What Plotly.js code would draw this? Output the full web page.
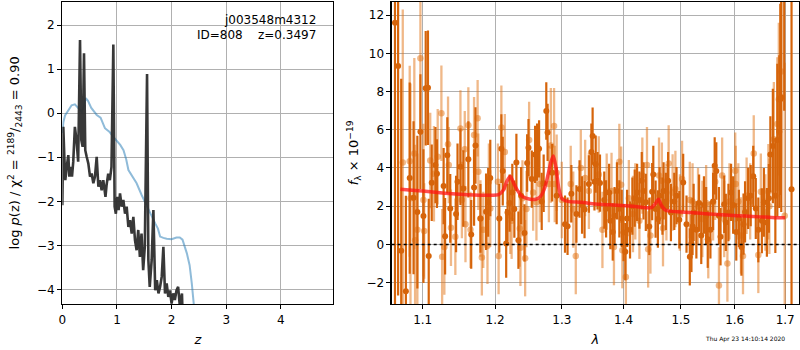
<!DOCTYPE html>
<html>
<head>
<meta charset="utf-8">
<script src="https://cdn.plot.ly/plotly-3.0.1.min.js"></script>
<style>html,body{margin:0;padding:0;background:#fff;}#chart{width:800px;height:350px;}</style>
</head>
<body>
<div id="chart"></div>
<script>
// ---- Left panel: log p(z) ----
const zBlack = [0, 0.018, 0.037, 0.055, 0.08, 0.11, 0.128, 0.153, 0.177, 0.2, 0.23, 0.26, 0.29, 0.324, 0.348, 0.372, 0.397, 0.42, 0.446, 0.476, 0.507, 0.537, 0.568, 0.598, 0.629, 0.66, 0.69, 0.72, 0.75, 0.79, 0.81, 0.84, 0.87, 0.9, 0.934, 0.958, 0.98, 1.007, 1.03, 1.056, 1.087, 1.117, 1.148, 1.178, 1.209, 1.24, 1.27, 1.3, 1.33, 1.36, 1.39, 1.42, 1.45, 1.48, 1.51, 1.551, 1.575, 1.6, 1.636, 1.667, 1.7, 1.73, 1.76, 1.79, 1.82, 1.85, 1.88, 1.91, 1.94, 1.97, 2.0, 2.03, 2.06, 2.09, 2.12, 2.15, 2.19, 2.2];
const pzBlack = [-2.09, -0.31, -0.99, -1.52, -1.22, -0.95, -1.44, -1.22, -1.44, -1.1, -0.31, -0.61, -1.1, 1.66, -0.61, -0.76, 1.36, -0.84, -0.99, -1.14, -1.44, -1.37, -1.59, -1.44, -0.99, -1.67, -1.52, -1.75, -1.52, -1.9, -1.63, -1.37, -1.52, -1.22, 1.56, -2.12, -2.28, -1.9, -2.2, -1.82, -2.12, -1.97, -2.28, -2.12, -2.58, -2.43, -2.73, -2.35, -2.88, -3.11, -2.65, -3.26, -2.73, -3.56, -3.03, 0.89, -3.33, -3.94, -3.33, -2.2, -4.02, -3.79, -4.09, -3.94, -3.71, -3.03, -4.09, -3.86, -4.17, -4.02, -4.32, -4.09, -4.24, -4.02, -3.94, -4.36, -4.09, -4.5];
const zBlue = [0, 0.02, 0.05, 0.1, 0.17, 0.23, 0.29, 0.355, 0.39, 0.43, 0.47, 0.53, 0.63, 0.7, 0.78, 0.86, 0.93, 1.0, 1.06, 1.12, 1.17, 1.21, 1.28, 1.36, 1.45, 1.55, 1.63, 1.7, 1.75, 1.79, 1.85, 1.91, 2.0, 2.09, 2.15, 2.2, 2.28, 2.33, 2.37, 2.41, 2.45];
const pzBlue = [-0.45, -0.2, -0.05, 0.05, 0.18, 0.2, 0.12, 0.03, 0.15, 0.34, 0.28, 0.12, -0.04, -0.1, -0.34, -0.42, -0.53, -0.62, -0.72, -0.84, -1.05, -1.29, -1.42, -1.59, -1.85, -2.12, -2.35, -2.5, -2.62, -2.8, -2.83, -2.85, -2.86, -2.82, -2.82, -2.87, -3.18, -3.45, -3.86, -4.3, -4.9];

// ---- Right panel: spectrum (dark series) ----
const waveA = [1.064, 1.068, 1.072, 1.078, 1.083, 1.088, 1.093, 1.097, 1.101, 1.104, 1.107, 1.108, 1.112, 1.117, 1.119, 1.128, 1.130, 1.133, 1.137, 1.145, 1.147, 1.151, 1.155, 1.162, 1.166, 1.170, 1.172, 1.179, 1.187, 1.190, 1.193, 1.206, 1.209, 1.211, 1.216, 1.218, 1.221, 1.225, 1.228, 1.231, 1.234, 1.238, 1.243, 1.247, 1.249, 1.254, 1.259, 1.262, 1.265, 1.269, 1.272, 1.276, 1.278, 1.285, 1.292, 1.305, 1.309, 1.315, 1.323, 1.328, 1.332, 1.336, 1.343, 1.347, 1.349, 1.352, 1.354, 1.357, 1.361, 1.368, 1.371, 1.376, 1.378, 1.382, 1.385, 1.389, 1.393, 1.397, 1.400, 1.403, 1.406, 1.411, 1.415, 1.419, 1.423, 1.427, 1.431, 1.434, 1.438, 1.444, 1.449, 1.451, 1.455, 1.459, 1.462, 1.467, 1.469, 1.473, 1.477, 1.482, 1.488, 1.492, 1.497, 1.504, 1.510, 1.516, 1.519, 1.521, 1.523, 1.528, 1.533, 1.537, 1.542, 1.546, 1.549, 1.554, 1.559, 1.562, 1.565, 1.570, 1.573, 1.580, 1.583, 1.588, 1.593, 1.597, 1.603, 1.608, 1.613, 1.617, 1.620, 1.626, 1.631, 1.636, 1.641, 1.646, 1.653, 1.657, 1.663, 1.667, 1.670, 1.675, 1.680, 1.684, 1.688, 1.690, 1.692, 1.698, 1.713];
const fluxA = [11.6, 9.33, -0.33, -2.45, 3.47, 2.44, 1.69, 5.9, 1.48, 8.17, 8.2, -0.61, 3.23, 4.15, 3.7, 3.05, 0.43, 4.66, 1.88, 1.59, 3.28, 4.06, 2.93, 4.45, 0.52, 2.98, 5.18, 1.36, 1.71, 2.2, 3.47, 1.36, 5.01, 3.84, 0.05, 1.67, 2.16, 2.72, 1.85, 4.29, 0.22, 2.55, 0.6, 4.26, 5.06, 3.42, 4.71, 4.83, 5.0, 2.25, 3.2, 6.98, 5.86, 3.75, 2.55, 1.06, 0.95, 2.65, 1.59, 2.9, 2.06, 1.82, 3.16, 4.83, 5.67, 3.28, 4.2, 3.33, 3.21, 2.32, 1.86, 2.72, 1.24, 0.65, 1.5, 2.8, 1.86, 1.36, 0.62, -0.38, 1.36, 0.76, 2.0, 2.42, 2.72, 2.32, 3.33, 2.8, 2.2, 0.94, 2.76, 3.66, 1.85, 1.33, 2.55, 2.0, 2.8, 2.25, 3.33, 1.67, 2.25, 2.55, 1.29, 3.24, 1.06, -0.65, 0.05, 0.94, 1.67, 0.76, 2.16, 0.47, 2.06, 1.5, 0.27, 0.76, 2.25, 4.11, 3.84, 1.5, 0.4, 2.1, 1.15, 1.67, 2.72, 2.06, 0.65, 1.36, -0.14, 1.06, 1.7, 2.41, 2.55, 3.56, 1.88, 0.76, 1.24, 2.2, 1.15, 2.41, 4.71, 5.15, 2.55, 5.46, 5.9, 7.59, 7.7, 15.0, 2.88];
const errA = [15, 12, 9, 5, 5, 4, 4, 3, 3.5, 3, 3, 3, 2, 2, 1.8, 2, 2, 2, 1.8, 2, 2, 2, 2, 2, 1.8, 2, 2, 1.8, 2, 1.8, 2, 1.8, 1.8, 1.8, 1.8, 1.5, 1.5, 1.5, 1.5, 1.5, 1.5, 1.5, 1.5, 1.5, 1.5, 1.5, 1.5, 1.5, 1.5, 1.5, 1.5, 1.5, 1.5, 1.5, 1.5, 1.5, 1.5, 1.5, 1.5, 1.5, 1.5, 1.5, 1.5, 1.5, 1.5, 1.5, 1.5, 1.5, 1.5, 1.5, 1.5, 1.5, 1.5, 1.5, 1.5, 1.5, 1.5, 1.5, 1.5, 1.5, 1.5, 1.5, 1.5, 1.5, 1.5, 1.5, 1.5, 1.5, 1.5, 1.5, 1.5, 1.5, 1.5, 1.5, 1.5, 1.5, 1.5, 1.5, 1.5, 1.5, 1.5, 1.5, 1.5, 1.5, 1.5, 1.5, 1.5, 1.5, 1.5, 1.5, 1.5, 1.5, 1.5, 1.5, 1.5, 1.5, 1.5, 1.5, 1.5, 1.5, 1.5, 1.5, 1.5, 1.5, 1.5, 1.5, 1.5, 1.5, 1.5, 1.6, 1.6, 1.6, 1.6, 1.6, 1.6, 1.7, 1.7, 1.8, 1.8, 1.8, 2, 3, 3, 4, 4, 5, 6, 8, 10, 12];

// ---- Right panel: spectrum (light series) ----
const waveB = [1.074, 1.083, 1.084, 1.089, 1.090, 1.093, 1.097, 1.101, 1.102, 1.110, 1.115, 1.120, 1.125, 1.126, 1.129, 1.134, 1.135, 1.138, 1.144, 1.151, 1.153, 1.157, 1.158, 1.162, 1.165, 1.170, 1.175, 1.176, 1.179, 1.181, 1.183, 1.189, 1.191, 1.193, 1.204, 1.205, 1.209, 1.214, 1.222, 1.224, 1.236, 1.237, 1.240, 1.244, 1.246, 1.250, 1.256, 1.261, 1.266, 1.280, 1.283, 1.288, 1.289, 1.292, 1.300, 1.314, 1.318, 1.322, 1.330, 1.337, 1.343, 1.359, 1.365, 1.372, 1.380, 1.384, 1.393, 1.396, 1.398, 1.404, 1.409, 1.416, 1.420, 1.427, 1.432, 1.440, 1.442, 1.446, 1.461, 1.466, 1.468, 1.474, 1.478, 1.485, 1.490, 1.498, 1.502, 1.516, 1.521, 1.531, 1.539, 1.546, 1.550, 1.559, 1.563, 1.570, 1.576, 1.580, 1.586, 1.590, 1.601, 1.602, 1.607, 1.612, 1.616, 1.623, 1.630, 1.637, 1.646, 1.651, 1.660, 1.666, 1.668, 1.677, 1.684, 1.687, 1.692, 1.699];
const fluxB = [4.29, 4.35, 2.42, 4.76, 0.22, 0.76, 9.74, 2.32, 0.7, 4.39, 3.7, 4.59, 6.86, -0.65, -0.14, 5.24, 4.15, 0.87, 0.4, 6.07, 2.32, 4.98, 1.06, 6.23, 0.76, 5.72, 6.6, 3.8, 1.36, -0.68, 0.76, -0.07, 3.28, 1.88, 3.28, -0.61, 6.12, 4.83, 1.5, 1.24, 0.83, -0.18, 2.41, -0.72, 1.85, 5.46, 2.72, 2.2, 3.16, 3.16, 5.18, 6.19, 3.16, 3.75, 2.32, 3.16, 1.82, -0.61, 4.0, 3.47, 2.8, 3.66, 0.76, 2.76, 2.8, -0.14, 4.32, 3.12, -0.3, -1.71, 2.42, 1.59, 2.25, 1.24, 3.6, 4.15, -0.26, 0.47, 3.6, 3.33, 0.85, 2.2, 4.24, 2.72, 2.9, 1.67, 3.42, 2.32, 2.25, 2.0, 1.33, 2.16, 0.22, 2.2, 3.28, -2.15, 3.6, 1.33, -1.0, 2.25, 3.86, 3.16, 2.25, 0.47, -0.61, 2.55, 2.25, 4.76, -0.55, 2.76, 1.67, 2.76, 2.0, 5.5, 6.3, 7.6, 9.05, 1.5];
const errB = [8, 5, 6, 5, 5, 4, 4, 4, 2.5, 2.5, 2.5, 2.5, 2.5, 2.5, 2.5, 2.5, 2, 2, 2, 2, 2, 2, 2, 2, 2, 2, 2, 2, 2, 2, 2, 2, 2, 2, 2, 2, 2.2, 2, 2, 2, 2, 2, 2, 2, 2, 2, 2, 2, 2, 2, 3, 2, 2, 2, 2, 2, 2, 2, 2, 2, 2, 2, 2, 2, 2, 2, 2, 2, 2, 1.5, 2, 2, 2, 2, 2, 2, 2, 2, 2, 2, 2, 2, 2, 2, 2, 2, 2, 2, 2, 2, 2, 2, 2, 2, 2, 2, 2, 2, 2, 2, 2, 2, 2, 2, 2, 2, 2, 2, 2, 2, 2, 2.5, 2.5, 3, 3.5, 4, 5, 8];

// ---- Right panel: model ----
const modelWave = [1.071, 1.09, 1.11, 1.13, 1.15, 1.17, 1.19, 1.205, 1.212, 1.217, 1.222, 1.227, 1.233, 1.24, 1.25, 1.26, 1.267, 1.274, 1.279, 1.283, 1.287, 1.291, 1.295, 1.30, 1.31, 1.33, 1.36, 1.39, 1.42, 1.447, 1.455, 1.46, 1.465, 1.472, 1.48, 1.50, 1.53, 1.56, 1.59, 1.62, 1.65, 1.68, 1.70];
const modelFlux = [2.88, 2.82, 2.76, 2.68, 2.62, 2.58, 2.57, 2.6, 2.85, 3.3, 3.57, 3.2, 2.8, 2.5, 2.38, 2.36, 2.5, 3.0, 3.7, 4.3, 4.62, 4.0, 3.0, 2.4, 2.25, 2.2, 2.1, 2.05, 1.98, 1.92, 2.15, 2.36, 2.05, 1.8, 1.74, 1.7, 1.64, 1.58, 1.53, 1.48, 1.44, 1.4, 1.4];

const lamTicks = [1.1, 1.2, 1.3, 1.4, 1.5, 1.6, 1.7];
const lamTickText = ['1.1', '1.2', '1.3', '1.4', '1.5', '1.6', '1.7'];

const darkCol = 'rgb(214,100,10)';
const lightCol = 'rgba(225,113,17,0.5)';

const traces = [
  {x: zBlue, y: pzBlue, xaxis: 'x', yaxis: 'y', mode: 'lines', line: {color: 'rgba(31,119,180,0.5)', width: 2}, hoverinfo: 'skip'},
  {x: zBlack, y: pzBlack, xaxis: 'x', yaxis: 'y', mode: 'lines', line: {color: 'rgba(45,45,45,0.95)', width: 2.6}, hoverinfo: 'skip'},
  {x: waveB, y: fluxB, xaxis: 'x2', yaxis: 'y2', mode: 'markers', marker: {color: lightCol, size: 6.5},
   error_y: {type: 'data', array: errB, visible: true, color: lightCol, thickness: 2.3, width: 0}},
  {x: waveA, y: fluxA, xaxis: 'x2', yaxis: 'y2', mode: 'markers', marker: {color: darkCol, size: 6},
   error_y: {type: 'data', array: errA, visible: true, color: darkCol, thickness: 2.2, width: 0}},
  {x: modelWave, y: modelFlux, xaxis: 'x2', yaxis: 'y2', mode: 'lines', line: {color: 'rgba(255,20,20,0.75)', width: 3.5, shape: 'spline', smoothing: 0.6}}
];

const axBase = {
  showgrid: true, gridcolor: '#b0b0b0', gridwidth: 1, zeroline: false,
  showline: true, linecolor: 'black', linewidth: 1.2, mirror: true,
  ticks: 'outside', ticklen: 4, tickcolor: 'black', tickwidth: 1,
  tickfont: {family: 'DejaVu Sans', size: 12, color: 'black'}, automargin: false
};

const layout = {
  width: 800, height: 350,
  margin: {l: 0, r: 0, t: 0, b: 0},
  paper_bgcolor: 'white', plot_bgcolor: 'white',
  showlegend: false,
  font: {family: 'DejaVu Sans', size: 12, color: 'black'},
  xaxis: Object.assign({}, axBase, {domain: [0.0779, 0.4166], range: [0, 4.96], tickvals: [0, 1, 2, 3, 4], anchor: 'y',
    title: {text: '<i>z</i>', font: {size: 13}, standoff: 9}}),
  yaxis: Object.assign({}, axBase, {domain: [0.1314, 0.9951], range: [-4.33, 2.53], tickvals: [-4, -3, -2, -1, 0, 1, 2], anchor: 'x',
    title: {text: 'log <i>p</i>(z) / χ<sup>2</sup> = <sup>2189</sup>/<sub>2443</sub> = 0.90', font: {size: 13}, standoff: 14}}),
  xaxis2: Object.assign({}, axBase, {domain: [0.4896, 0.999], type: 'log', range: [0.02522, 0.23775], tickvals: lamTicks, ticktext: lamTickText, anchor: 'y2',
    title: {text: '<i>λ</i>', font: {size: 13}, standoff: 9}}),
  yaxis2: Object.assign({}, axBase, {domain: [0.1314, 0.9951], range: [-3.12, 12.70], tickvals: [-2, 0, 2, 4, 6, 8, 10, 12], anchor: 'x2',
    title: {text: '<i>f</i><sub>λ</sub> × 10<sup>−19</sup>', font: {size: 13}, standoff: 4}}),
  shapes: [
    {type: 'line', xref: 'x2 domain', yref: 'y2', x0: 0, x1: 1, y0: 0, y1: 0, line: {color: 'black', width: 1.5, dash: 'dot'}}
  ],
  annotations: [
    {xref: 'paper', yref: 'paper', x: 0.398, y: 1 - 20/350, xanchor: 'right', yanchor: 'middle', showarrow: false,
     text: 'j003548m4312', font: {family: 'DejaVu Sans', size: 12, color: 'black'}},
    {xref: 'paper', yref: 'paper', x: 0.398, y: 1 - 35/350, xanchor: 'right', yanchor: 'middle', showarrow: false,
     text: 'ID=808    z=0.3497', font: {family: 'DejaVu Sans', size: 12, color: 'black'}},
    {xref: 'paper', yref: 'paper', x: 787/800, y: 1 - 339/350, xanchor: 'right', yanchor: 'middle', showarrow: false,
     text: 'Thu Apr 23 14:10:14 2020', font: {family: 'DejaVu Sans', size: 6, color: 'black'}}
  ]
};

Plotly.newPlot('chart', traces, layout, {staticPlot: true, displayModeBar: false});
</script>
</body>
</html>
